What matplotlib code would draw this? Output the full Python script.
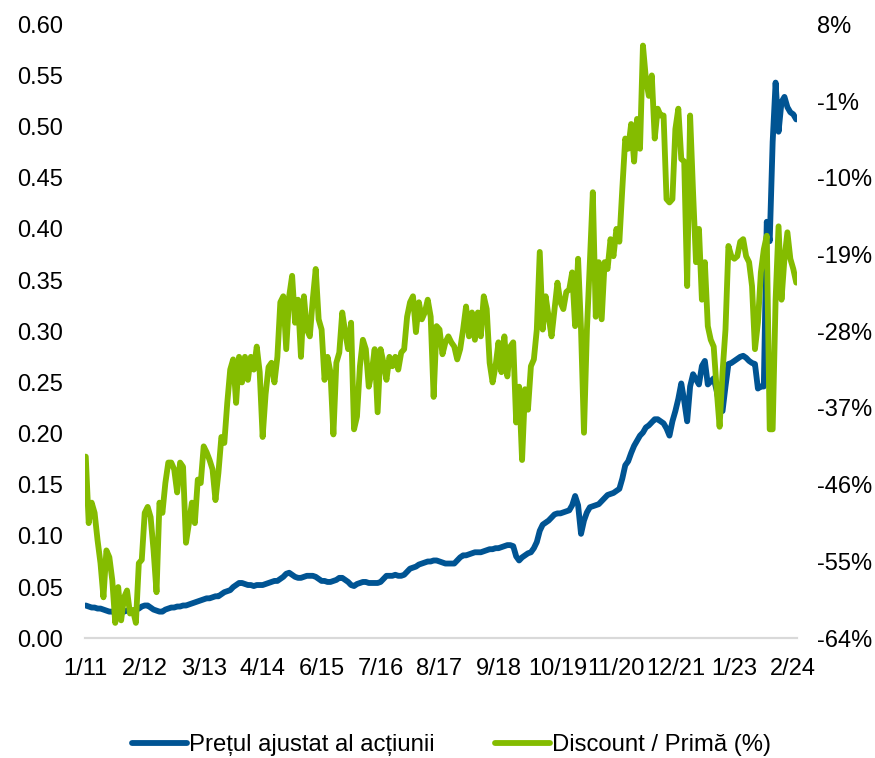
import matplotlib
matplotlib.use("Agg")
import matplotlib.pyplot as plt

plt.rcParams['font.family'] = ['Liberation Sans', 'DejaVu Sans']

# x axis: trading-day index, labels every 20 points
date_labels = ["1/11", "2/12", "3/13", "4/14", "6/15", "7/16", "8/17",
               "9/18", "10/19", "11/20", "12/21", "1/23", "2/24"]
label_step = 20

# adjusted share price (left axis)
price = [
    0.032, 0.031, 0.030, 0.030, 0.029, 0.029, 0.028, 0.027, 0.026, 0.026,
    0.025, 0.025, 0.026, 0.026, 0.027, 0.027, 0.027, 0.028, 0.029, 0.031,
    0.032, 0.032, 0.030, 0.028, 0.027, 0.026, 0.026, 0.028, 0.029, 0.030,
    0.030, 0.031, 0.031, 0.032, 0.032, 0.033, 0.034, 0.035, 0.036, 0.037,
    0.038, 0.039, 0.039, 0.040, 0.041, 0.041, 0.043, 0.045, 0.046, 0.047,
    0.050, 0.052, 0.054, 0.054, 0.053, 0.052, 0.052, 0.051, 0.052, 0.052,
    0.052, 0.053, 0.054, 0.055, 0.056, 0.056, 0.058, 0.060, 0.063, 0.064,
    0.062, 0.060, 0.059, 0.059, 0.060, 0.061, 0.061, 0.061, 0.060, 0.058,
    0.056, 0.056, 0.055, 0.055, 0.056, 0.057, 0.059, 0.059, 0.057, 0.055,
    0.052, 0.051, 0.053, 0.054, 0.055, 0.055, 0.054, 0.054, 0.054, 0.054,
    0.055, 0.058, 0.061, 0.061, 0.061, 0.062, 0.061, 0.061, 0.062, 0.065,
    0.068, 0.069, 0.070, 0.072, 0.073, 0.074, 0.075, 0.075, 0.076, 0.076,
    0.075, 0.074, 0.073, 0.073, 0.073, 0.073, 0.076, 0.079, 0.081, 0.081,
    0.082, 0.083, 0.084, 0.084, 0.084, 0.085, 0.086, 0.087, 0.087, 0.088,
    0.088, 0.089, 0.090, 0.091, 0.091, 0.090, 0.080, 0.076, 0.079, 0.081,
    0.083, 0.084, 0.088, 0.094, 0.105, 0.111, 0.113, 0.115, 0.118, 0.121,
    0.122, 0.122, 0.123, 0.124, 0.125, 0.130, 0.139, 0.130, 0.102, 0.115,
    0.123, 0.128, 0.129, 0.130, 0.131, 0.134, 0.137, 0.140, 0.141, 0.142,
    0.144, 0.146, 0.156, 0.169, 0.173, 0.181, 0.188, 0.193, 0.198, 0.201,
    0.206, 0.208, 0.211, 0.214, 0.214, 0.212, 0.210, 0.205, 0.198, 0.212,
    0.222, 0.234, 0.249, 0.232, 0.212, 0.246, 0.258, 0.253, 0.248, 0.266,
    0.271, 0.248, 0.251, 0.254, 0.242, 0.227, 0.222, 0.246, 0.268, 0.269,
    0.271, 0.273, 0.275, 0.276, 0.274, 0.271, 0.269, 0.268, 0.244, 0.246,
    0.246, 0.407, 0.388, 0.485, 0.543, 0.495, 0.524, 0.529, 0.519, 0.514,
    0.512, 0.507,
]

# discount / premium in % (right axis)
discount = [
    -42.7, -50.5, -48.1, -49.3, -52.5, -55.2, -59.2, -53.7, -54.5, -57.2,
    -62.2, -58.0, -61.9, -59.2, -58.4, -61.1, -60.7, -62.2, -55.2, -54.8,
    -49.3, -48.6, -49.8, -53.7, -58.6, -48.1, -49.3, -45.8, -43.4, -43.4,
    -44.2, -46.9, -43.4, -43.9, -52.8, -50.5, -48.1, -50.5, -45.4, -45.8,
    -41.5, -42.2, -43.1, -44.2, -47.8, -44.6, -40.4, -41.1, -36.4, -32.5,
    -31.3, -36.4, -31.0, -34.0, -31.0, -33.7, -31.0, -32.5, -29.8, -32.8,
    -40.4, -35.4, -32.2, -31.7, -34.0, -31.0, -24.6, -23.9, -30.1, -23.9,
    -21.5, -27.0, -24.3, -31.0, -23.9, -27.8, -28.6, -24.3, -20.7, -26.6,
    -27.8, -33.7, -31.0, -32.8, -40.1, -31.7, -30.5, -25.8, -28.1, -30.1,
    -27.0, -39.5, -38.0, -32.1, -29.0, -30.1, -34.5, -32.8, -30.1, -37.5,
    -30.1, -31.7, -33.7, -31.0, -32.1, -31.0, -32.5, -30.5, -30.1, -26.3,
    -24.6, -23.9, -28.1, -24.6, -26.6, -25.8, -24.3, -26.3, -35.7, -27.4,
    -27.8, -30.7, -29.3, -28.6, -29.3, -29.8, -31.3, -30.1, -27.8, -25.1,
    -28.6, -25.8, -29.0, -25.8, -28.6, -23.9, -25.4, -31.7, -34.0, -32.1,
    -29.3, -32.8, -28.6, -33.3, -29.8, -29.3, -38.7, -34.5, -43.1, -34.8,
    -37.2, -32.1, -31.3, -27.8, -18.7, -27.8, -23.9, -26.3, -28.6, -25.4,
    -22.3, -24.6, -25.4, -23.4, -23.1, -21.1, -27.4, -19.5, -27.8, -39.9,
    -27.8, -19.9, -11.7, -26.3, -19.9, -26.6, -19.9, -20.7, -17.2, -19.2,
    -16.0, -17.5, -11.3, -5.4, -6.6, -3.7, -8.1, -3.1, -6.6, 5.5,
    1.6, -0.4, 2.0, -5.4, -1.9, -2.7, -2.7, -12.5, -12.9, -12.5,
    -4.3, -1.9, -7.8, -8.1, -22.7, -2.7, -11.7, -19.9, -16.0, -24.3,
    -19.9, -27.4, -29.0, -29.8, -34.8, -39.2, -32.8, -27.8, -18.0, -19.2,
    -19.5, -19.2, -17.5, -17.2, -19.2, -19.9, -22.7, -30.1, -27.0, -21.1,
    -18.4, -16.8, -39.5, -39.5, -24.3, -15.7, -24.3, -19.5, -16.4, -19.5,
    -20.7, -22.3,
]

blue = "#005493"
green = "#84BC00"

fig = plt.figure(figsize=(8.75, 7.58), dpi=100)
ax = fig.add_axes([0.097, 0.158, 0.814, 0.81])
ax2 = ax.twinx()

x = list(range(len(price)))
l1, = ax.plot(x, price, color=blue, lw=4.2, solid_capstyle="round",
              solid_joinstyle="round", label="Prețul ajustat al acțiunii")
l2, = ax2.plot(x, discount, color=green, lw=4.2, solid_capstyle="round",
               solid_joinstyle="round", label="Discount / Primă (%)")

ax.set_xlim(-0.3, len(price) - 0.7)
ax.set_ylim(0, 0.6)
ax.set_yticks([i * 0.05 for i in range(13)])
ax.set_yticklabels([f"{i * 0.05:.2f}" for i in range(13)])
ax2.set_ylim(-64, 8)
ax2.set_yticks(list(range(-64, 9, 9)))
ax2.set_yticklabels([f"{t}%" for t in range(-64, 9, 9)])

ax.set_xticks([i * label_step for i in range(len(date_labels))])
ax.set_xticklabels(date_labels)

for a in (ax, ax2):
    for s in ("top", "right", "left"):
        a.spines[s].set_visible(False)
    a.spines["bottom"].set_color("#d9d9d9")
    a.spines["bottom"].set_linewidth(1.5)
    a.tick_params(length=0, labelsize=17)
ax.tick_params(axis="y", pad=16)
ax2.tick_params(axis="y", pad=14)
ax.tick_params(axis="x", pad=14)

fig.legend(handles=[l1, l2], loc="lower center", bbox_to_anchor=(0.516, -0.026),
           ncol=2, frameon=False, fontsize=17.2, handlelength=2.3,
           handletextpad=0.1, columnspacing=2.5)

fig.savefig("out.png", dpi=100)
